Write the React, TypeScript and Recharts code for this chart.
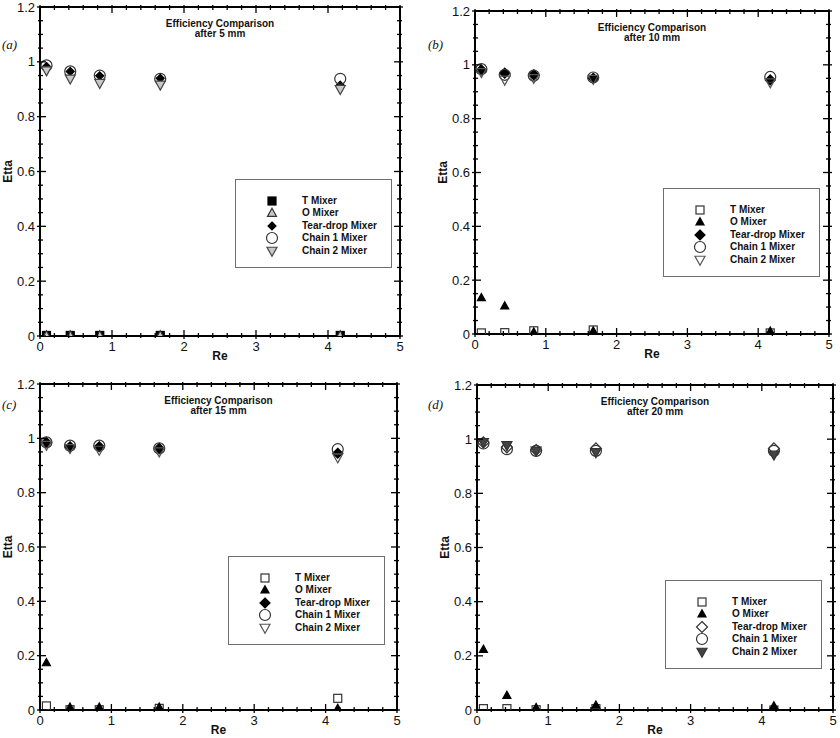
import React from 'react';
import { ScatterChart, Scatter, XAxis, YAxis, ReferenceArea, Legend } from 'recharts';

// Re values shared by every panel
const RE = [0.09, 0.42, 0.83, 1.67, 4.17];

const X_TICKS = [0, 0.2, 0.4, 0.6, 0.8, 1, 1.2, 1.4, 1.6, 1.8, 2, 2.2, 2.4, 2.6, 2.8, 3, 3.2, 3.4, 3.6, 3.8, 4, 4.2, 4.4, 4.6, 4.8, 5];
const X_MAJOR = [0, 1, 2, 3, 4, 5];
const Y_TICKS = [0, 0.05, 0.1, 0.15, 0.2, 0.25, 0.3, 0.35, 0.4, 0.45, 0.5, 0.55, 0.6, 0.65, 0.7, 0.75, 0.8, 0.85, 0.9, 0.95, 1, 1.05, 1.1, 1.15, 1.2];
const Y_MAJOR = [0, 0.2, 0.4, 0.6, 0.8, 1, 1.2];

const NAMES = ['T Mixer', 'O Mixer', 'Tear-drop Mixer', 'Chain 1 Mixer', 'Chain 2 Mixer'];

// (a) after 5 mm
const A_T = [0.002, 0.002, 0.002, 0.002, 0.002];
const A_O = [0.002, 0.002, 0.002, 0.002, 0.002];
const A_TEAR = [0.983, 0.965, 0.949, 0.94, 0.915];
const A_C1 = [0.987, 0.965, 0.95, 0.938, 0.938];
const A_C2 = [0.968, 0.938, 0.922, 0.916, 0.9];

// (b) after 10 mm
const B_T = [0.004, 0.005, 0.012, 0.015, 0.004];
const B_O = [0.135, 0.104, 0.007, 0.011, 0.01];
const B_TEAR = [0.981, 0.969, 0.963, 0.95, 0.944];
const B_C1 = [0.984, 0.963, 0.96, 0.953, 0.955];
const B_C2 = [0.972, 0.944, 0.95, 0.947, 0.934];

// (c) after 15 mm
const C_T = [0.015, 0.001, 0.001, 0.006, 0.043];
const C_O = [0.174, 0.01, 0.01, 0.01, 0.006];
const C_TEAR = [0.985, 0.969, 0.969, 0.963, 0.945];
const C_C1 = [0.985, 0.973, 0.973, 0.963, 0.96];
const C_C2 = [0.975, 0.963, 0.957, 0.951, 0.929];

// (d) after 20 mm
const D_T = [0.005, 0.005, 0.001, 0.005, 0.0];
const D_O = [0.224, 0.054, 0.009, 0.018, 0.015];
const D_TEAR = [0.988, 0.97, 0.96, 0.966, 0.966];
const D_C1 = [0.984, 0.963, 0.957, 0.957, 0.957];
const D_C2 = [0.988, 0.977, 0.957, 0.951, 0.942];

type Kind = 'square' | 'circle' | 'diamond' | 'triUp' | 'triDown';
interface MarkStyle { kind: Kind; size: number; fill: string; stroke: string }

const FONT = '"Liberation Sans", Arial, sans-serif';
const LIGHT = '#c8c8c8';
const EDGE = '#333';

const STYLE_A: MarkStyle[] = [
  { kind: 'square', size: 8, fill: '#000', stroke: '#000' },
  { kind: 'triUp', size: 9, fill: LIGHT, stroke: EDGE },
  { kind: 'diamond', size: 8, fill: '#000', stroke: '#000' },
  { kind: 'circle', size: 11, fill: 'none', stroke: EDGE },
  { kind: 'triDown', size: 10, fill: LIGHT, stroke: '#444' },
];
const STYLE_BC: MarkStyle[] = [
  { kind: 'square', size: 8, fill: 'none', stroke: EDGE },
  { kind: 'triUp', size: 8, fill: '#000', stroke: '#000' },
  { kind: 'diamond', size: 10, fill: '#000', stroke: '#000' },
  { kind: 'circle', size: 11, fill: 'none', stroke: EDGE },
  { kind: 'triDown', size: 10, fill: 'none', stroke: '#555' },
];
const STYLE_D: MarkStyle[] = [
  { kind: 'square', size: 8, fill: 'none', stroke: EDGE },
  { kind: 'triUp', size: 8, fill: '#000', stroke: '#000' },
  { kind: 'diamond', size: 11, fill: 'none', stroke: EDGE },
  { kind: 'circle', size: 11, fill: 'none', stroke: EDGE },
  { kind: 'triDown', size: 10, fill: '#444', stroke: '#333' },
];

const PANELS = [
  { letter: '(a)', sub: 'after 5 mm', left: 0, top: 0, plot: [40, 7, 400, 336], letterPos: [2, 49], legendPos: [235, 179], styles: STYLE_A, values: [A_T, A_O, A_TEAR, A_C1, A_C2] },
  { letter: '(b)', sub: 'after 10 mm', left: 420, top: 0, plot: [475, 11, 829, 334], letterPos: [428, 49], legendPos: [663, 188], styles: STYLE_BC, values: [B_T, B_O, B_TEAR, B_C1, B_C2] },
  { letter: '(c)', sub: 'after 15 mm', left: 0, top: 369, plot: [40, 384, 397, 710], letterPos: [2, 409], legendPos: [228, 556], styles: STYLE_BC, values: [C_T, C_O, C_TEAR, C_C1, C_C2] },
  { letter: '(d)', sub: 'after 20 mm', left: 420, top: 369, plot: [477, 385, 833, 710], letterPos: [428, 409], legendPos: [665, 580], styles: STYLE_D, values: [D_T, D_O, D_TEAR, D_C1, D_C2] },
];

const CHART_W = 420;
const CHART_H = 369;
const YAXIS_W = 30;
const XAXIS_H = 25;

const Marker = ({ kind, size, fill, stroke, cx, cy }: MarkStyle & { cx: number; cy: number }) => {
  const h = size / 2;
  const common = { fill, stroke, strokeWidth: 1.2 };
  switch (kind) {
    case 'square':
      return <rect x={cx - h} y={cy - h} width={size} height={size} {...common} />;
    case 'circle':
      return <circle cx={cx} cy={cy} r={h} {...common} />;
    case 'diamond':
      return <polygon points={`${cx},${cy - h} ${cx + h},${cy} ${cx},${cy + h} ${cx - h},${cy}`} {...common} />;
    case 'triUp':
      return <polygon points={`${cx},${cy - h * 1.05} ${cx + h},${cy + h * 0.75} ${cx - h},${cy + h * 0.75}`} {...common} />;
    default:
      return <polygon points={`${cx},${cy + h * 1.05} ${cx + h},${cy - h * 0.75} ${cx - h},${cy - h * 0.75}`} {...common} />;
  }
};

const LegendBox = ({ styles }: { styles: MarkStyle[] }) => (
  <div style={{ position: 'relative', width: 157, height: 89, border: '1px solid #6e6e6e', boxSizing: 'border-box', background: '#fff' }}>
    {NAMES.map((name, i) => {
      const y = 21 + i * 12.4;
      return (
        <React.Fragment key={name}>
          <svg width={16} height={16} style={{ position: 'absolute', left: 36 - 8, top: y - 8, overflow: 'visible' }}>
            <Marker {...styles[i]} cx={8} cy={8} />
          </svg>
          <div style={{ position: 'absolute', left: 66, top: y - 7, fontFamily: FONT, fontWeight: 'bold', fontSize: 10, lineHeight: '14px', whiteSpace: 'nowrap', color: '#111' }}>
            {name}
          </div>
        </React.Fragment>
      );
    })}
  </div>
);

const Panel = ({ p }: { p: (typeof PANELS)[number] }) => {
  const [x0, y0, x1, y1] = p.plot;
  const plotW = x1 - x0;
  const plotH = y1 - y0;
  const margin = {
    left: x0 - p.left - YAXIS_W,
    top: y0 - p.top,
    right: p.left + CHART_W - x1,
    bottom: p.top + CHART_H - y1 - XAXIS_H,
  };

  const xTick = ({ x, y, payload }: any) => {
    const v = payload.value;
    const major = X_MAJOR.includes(v);
    const up = major ? 6 : 3;
    return (
      <g>
        <line x1={x} x2={x} y1={y - up} y2={y + (major ? 3 : 2)} stroke="#000" strokeWidth={1.3} />
        <line x1={x} x2={x} y1={y - plotH - 2} y2={y - plotH + up} stroke="#000" strokeWidth={1.3} />
        {major && (
          <text x={x} y={y + 10} textAnchor="middle" dominantBaseline="central" fontFamily={FONT} fontSize={13} fill="#111">
            {v}
          </text>
        )}
      </g>
    );
  };

  const yTick = ({ x, y, payload }: any) => {
    const v = payload.value;
    const major = Y_MAJOR.includes(v);
    const inn = major ? 6 : 3;
    return (
      <g>
        <line x1={x - (major ? 3 : 2)} x2={x + inn} y1={y} y2={y} stroke="#000" strokeWidth={1.3} />
        <line x1={x + plotW - inn} x2={x + plotW + (major ? 3 : 2)} y1={y} y2={y} stroke="#000" strokeWidth={1.3} />
        {major && (
          <text x={x - 5} y={y} textAnchor="end" dominantBaseline="central" fontFamily={FONT} fontSize={13} fill="#111">
            {String(v)}
          </text>
        )}
      </g>
    );
  };

  const panelText = () => {
    const cx = x0 - p.left + plotW / 2;
    const ty = y0 - p.top;
    const lx = x0 - p.left;
    return (
      <g fontFamily={FONT} fill="#111">
        <text x={cx} y={ty + 16} textAnchor="middle" dominantBaseline="central" fontSize={10} fontWeight="bold">Efficiency Comparison</text>
        <text x={cx} y={ty + 26} textAnchor="middle" dominantBaseline="central" fontSize={10} fontWeight="bold">{p.sub}</text>
        <text x={cx} y={ty + plotH + 20} textAnchor="middle" dominantBaseline="central" fontSize={12} fontWeight="bold">Re</text>
        <text x={lx - 32} y={ty + plotH / 2} textAnchor="middle" dominantBaseline="central" fontSize={12} fontWeight="bold" transform={`rotate(-90 ${lx - 32} ${ty + plotH / 2})`}>Etta</text>
        <text x={p.letterPos[0] - p.left} y={p.letterPos[1] - p.top} fontFamily='"Liberation Serif", "Times New Roman", serif' fontStyle="italic" fontSize={13}>{p.letter}</text>
      </g>
    );
  };

  return (
    <div style={{ position: 'absolute', left: p.left, top: p.top, width: CHART_W, height: CHART_H }}>
      <ScatterChart width={CHART_W} height={CHART_H} margin={margin}>
        <XAxis type="number" dataKey="x" domain={[0, 5]} ticks={X_TICKS} interval={0} height={XAXIS_H} tickSize={0} tickMargin={0} tickLine={false} axisLine={false} tick={xTick} allowDataOverflow />
        <YAxis type="number" dataKey="y" domain={[0, 1.2]} ticks={Y_TICKS} interval={0} width={YAXIS_W} tickSize={0} tickMargin={0} tickLine={false} axisLine={false} tick={yTick} allowDataOverflow />
        <ReferenceArea x1={0} x2={5} y1={0} y2={1.2} fill="none" stroke="#000" strokeWidth={2} label={panelText} />
        {NAMES.map((name, i) => (
          <Scatter
            key={name}
            name={name}
            data={RE.map((x, j) => ({ x, y: p.values[i][j] }))}
            isAnimationActive={false}
            shape={(s: any) => <Marker {...p.styles[i]} cx={s.cx} cy={s.cy} />}
          />
        ))}
        <Legend
          layout="vertical"
          align="center"
          verticalAlign="middle"
          wrapperStyle={{ left: p.legendPos[0] - p.left, top: p.legendPos[1] - p.top, width: 157, height: 89 }}
          content={() => <LegendBox styles={p.styles} />}
        />
      </ScatterChart>
    </div>
  );
}

export default function App() {
  return (
    <div style={{ position: 'absolute', left: 0, top: 0, width: 840, height: 738, background: '#fff' }}>
      {PANELS.map((p) => (
        <Panel key={p.letter} p={p} />
      ))}
    </div>
  );
}
